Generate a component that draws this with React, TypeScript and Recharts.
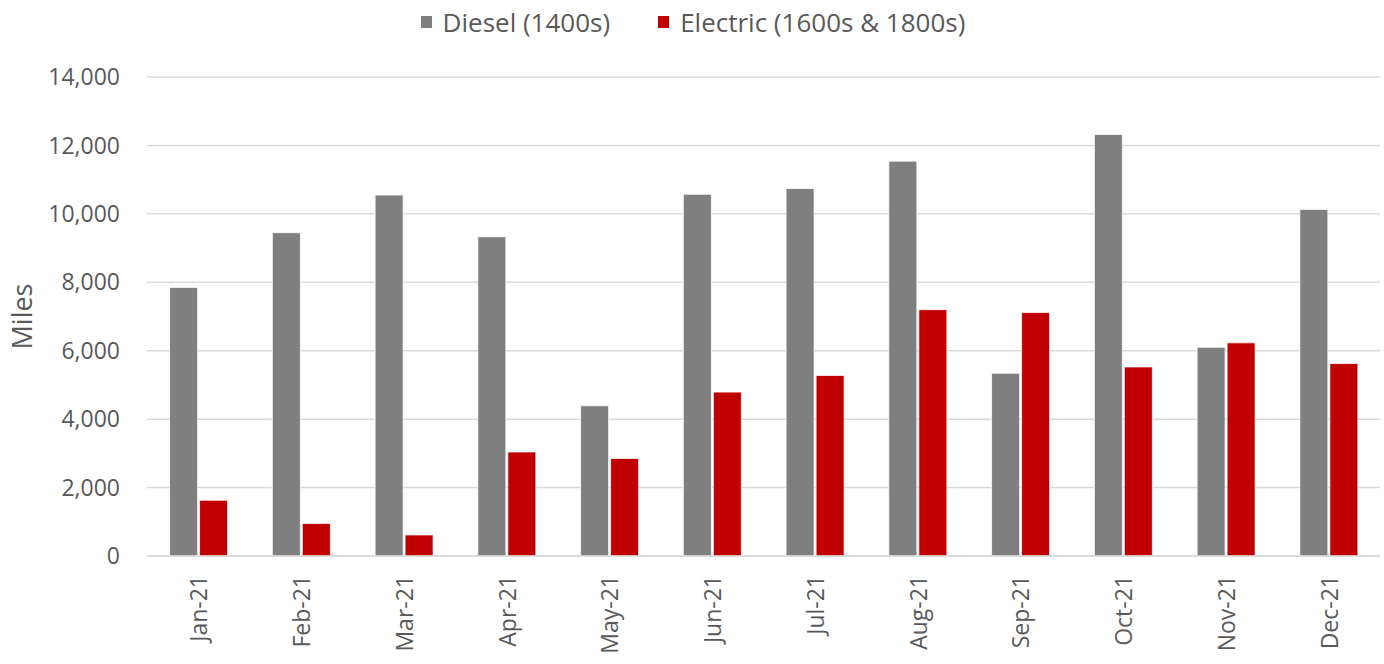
import { BarChart, Bar, XAxis, YAxis, CartesianGrid, Legend } from 'recharts';

const months = ['Jan-21', 'Feb-21', 'Mar-21', 'Apr-21', 'May-21', 'Jun-21', 'Jul-21', 'Aug-21', 'Sep-21', 'Oct-21', 'Nov-21', 'Dec-21'];
const diesel = [7850, 9450, 10550, 9330, 4390, 10570, 10740, 11540, 5340, 12320, 6100, 10130];
const electric = [1630, 950, 615, 3040, 2850, 4790, 5275, 7200, 7115, 5525, 6230, 5625];
const yTicks = [0, 2000, 4000, 6000, 8000, 10000, 12000, 14000];

const data = months.map((m, i) => ({ month: m, diesel: diesel[i], electric: electric[i] }));

const FONT = '"Open Sans", sans-serif';
const TEXT = '#595959';
const GRID = '#d9d9d9';
const GREY = '#7f7f7f';
const RED = '#c00000';

function MonthTick({ x, y, payload }: any) {
  return (
    <text
      x={x}
      y={y}
      transform={`rotate(-90, ${x}, ${y})`}
      textAnchor="end"
      dominantBaseline="central"
      fill={TEXT}
      fontSize={23}
      fontFamily={FONT}
    >
      {payload.value}
    </text>
  );
}

function TopLegend() {
  const items = [
    { label: 'Diesel (1400s)', color: GREY },
    { label: 'Electric (1600s & 1800s)', color: RED },
  ];
  return (
    <div style={{ display: 'flex', justifyContent: 'center', gap: 48, paddingTop: 2, paddingLeft: 6, fontFamily: FONT, fontSize: 26, color: TEXT, lineHeight: '32px' }}>
      {items.map((it) => (
        <div key={it.label} style={{ display: 'flex', alignItems: 'center', gap: 11 }}>
          <span style={{ width: 11, height: 12, background: it.color, display: 'inline-block' }} />
          <span>{it.label}</span>
        </div>
      ))}
    </div>
  );
}

export default function App() {
  return (
    <div style={{ position: 'absolute', left: 0, top: 0, background: '#fff' }}>
      <BarChart
        width={1384}
        height={664}
        data={data}
        margin={{ top: 4, right: 4, left: 0, bottom: 0 }}
        barCategoryGap="22%"
        barGap={2}
      >
        <Legend verticalAlign="top" align="center" height={73} content={<TopLegend />} />
        <CartesianGrid vertical={false} stroke={GRID} strokeWidth={1.5} />
        <XAxis
          dataKey="month"
          height={108}
          tickLine={false}
          tickSize={0}
          tickMargin={19}
          axisLine={{ stroke: GRID, strokeWidth: 1.5 }}
          interval={0}
          tick={<MonthTick />}
        />
        <YAxis
          width={147}
          domain={[0, 14000]}
          ticks={yTicks}
          tickLine={false}
          axisLine={false}
          tickSize={0}
          tickMargin={27}
          tick={{ fill: TEXT, fontSize: 23, fontFamily: FONT }}
          tickFormatter={(v: number) => v.toLocaleString('en-US')}
          label={{ value: 'Miles', angle: -90, position: 'center', dx: -51, fill: TEXT, fontSize: 27, fontFamily: FONT }}
        />
        <Bar dataKey="diesel" name="Diesel (1400s)" fill={GREY} stroke="#fff" strokeWidth={0.75} isAnimationActive={false} />
        <Bar dataKey="electric" name="Electric (1600s & 1800s)" fill={RED} stroke="#fff" strokeWidth={0.75} isAnimationActive={false} />
      </BarChart>
    </div>
  );
}
